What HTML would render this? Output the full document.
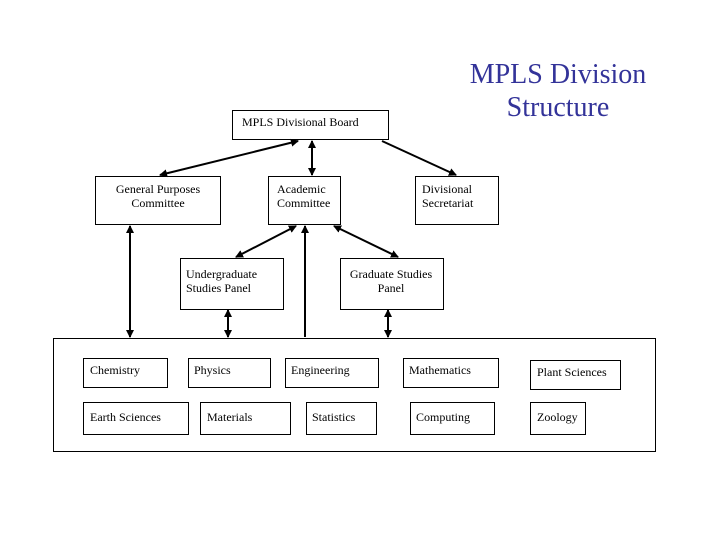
<!DOCTYPE html>
<html><head><meta charset="utf-8"><style>
body{margin:0;background:#fff;}
svg text{font-family:"Liberation Serif",serif;font-size:12px;fill:#000;}
</style></head><body>
<svg width="720" height="540" xmlns="http://www.w3.org/2000/svg">
<defs>
<marker id="a" markerWidth="8" markerHeight="8" refX="7" refY="4" orient="auto-start-reverse" markerUnits="userSpaceOnUse"><path d="M0,0 L8,4 L0,8 z" fill="#000"/></marker>
</defs>
<text x="558" y="83" text-anchor="middle" style="font-size:28px;fill:#333399">MPLS Division</text>
<text x="558" y="116" text-anchor="middle" style="font-size:28px;fill:#333399">Structure</text>
<g fill="none" stroke="#000" stroke-width="1">
<rect x="232.5" y="110.5" width="156" height="29"/>
<rect x="95.5" y="176.5" width="125" height="48"/>
<rect x="268.5" y="176.5" width="72" height="48"/>
<rect x="415.5" y="176.5" width="83" height="48"/>
<rect x="180.5" y="258.5" width="103" height="51"/>
<rect x="340.5" y="258.5" width="103" height="51"/>
<rect x="53.5" y="338.5" width="602" height="113"/>
<rect x="83.5" y="358.5" width="84" height="29"/>
<rect x="188.5" y="358.5" width="82" height="29"/>
<rect x="285.5" y="358.5" width="93" height="29"/>
<rect x="403.5" y="358.5" width="95" height="29"/>
<rect x="530.5" y="360.5" width="90" height="29"/>
<rect x="83.5" y="402.5" width="105" height="32"/>
<rect x="200.5" y="402.5" width="90" height="32"/>
<rect x="306.5" y="402.5" width="70" height="32"/>
<rect x="410.5" y="402.5" width="84" height="32"/>
<rect x="530.5" y="402.5" width="55" height="32"/>
</g>
<g stroke="#000" stroke-width="2" fill="none">
<line x1="298" y1="141" x2="160" y2="175" marker-start="url(#a)" marker-end="url(#a)"/>
<line x1="312" y1="141" x2="312" y2="175" marker-start="url(#a)" marker-end="url(#a)"/>
<line x1="382" y1="141" x2="456" y2="175" marker-end="url(#a)"/>
<line x1="296" y1="226" x2="236" y2="257" marker-start="url(#a)" marker-end="url(#a)"/>
<line x1="334" y1="226" x2="398" y2="257" marker-start="url(#a)" marker-end="url(#a)"/>
<line x1="130" y1="226" x2="130" y2="337" marker-start="url(#a)" marker-end="url(#a)"/>
<line x1="305" y1="226" x2="305" y2="337" marker-start="url(#a)"/>
<line x1="228" y1="310" x2="228" y2="337" marker-start="url(#a)" marker-end="url(#a)"/>
<line x1="388" y1="310" x2="388" y2="337" marker-start="url(#a)" marker-end="url(#a)"/>
</g>
<text x="242" y="126">MPLS Divisional Board</text>
<text x="158" y="193" text-anchor="middle">General Purposes</text>
<text x="158" y="207" text-anchor="middle">Committee</text>
<text x="277" y="193">Academic</text>
<text x="277" y="207">Committee</text>
<text x="422" y="193">Divisional</text>
<text x="422" y="207">Secretariat</text>
<text x="186" y="278">Undergraduate</text>
<text x="186" y="292">Studies Panel</text>
<text x="391" y="278" text-anchor="middle">Graduate Studies</text>
<text x="391" y="292" text-anchor="middle">Panel</text>
<text x="90" y="374">Chemistry</text>
<text x="194" y="374">Physics</text>
<text x="291" y="374">Engineering</text>
<text x="409" y="374">Mathematics</text>
<text x="537" y="376">Plant Sciences</text>
<text x="90" y="421">Earth Sciences</text>
<text x="207" y="421">Materials</text>
<text x="312" y="421">Statistics</text>
<text x="416" y="421">Computing</text>
<text x="537" y="421">Zoology</text>
</svg>
</body></html>
